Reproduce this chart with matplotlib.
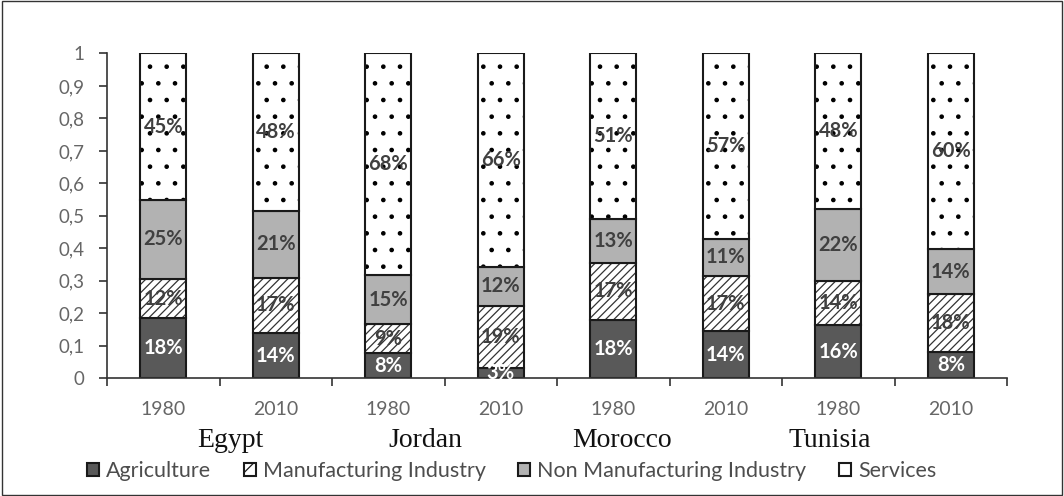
import numpy as np
import matplotlib.pyplot as plt
from matplotlib.patches import Rectangle, Patch

years = ["1980", "2010", "1980", "2010", "1980", "2010", "1980", "2010"]
countries = ["Egypt", "Jordan", "Morocco", "Tunisia"]
sectors = ["Agriculture", "Manufacturing Industry", "Non Manufacturing Industry", "Services"]

agriculture = [0.185, 0.14, 0.078, 0.033, 0.18, 0.145, 0.163, 0.08]
manufacturing = [0.12, 0.17, 0.088, 0.19, 0.175, 0.17, 0.135, 0.18]
non_manufacturing = [0.245, 0.205, 0.153, 0.12, 0.135, 0.115, 0.223, 0.137]
services = [0.45, 0.485, 0.681, 0.657, 0.51, 0.57, 0.479, 0.603]

agri_labels = ["18%", "14%", "8%", "3%", "18%", "14%", "16%", "8%"]
manu_labels = ["12%", "17%", "9%", "19%", "17%", "17%", "14%", "18%"]
nonm_labels = ["25%", "21%", "15%", "12%", "13%", "11%", "22%", "14%"]
serv_labels = ["45%", "48%", "68%", "66%", "51%", "57%", "48%", "60%"]

plt.rcParams["font.family"] = ["Lato", "DejaVu Sans"]
plt.rcParams["hatch.linewidth"] = 0.9

fig = plt.figure(figsize=(10.64, 4.96), dpi=100)
ax = fig.add_axes([0.1006, 0.2373, 0.8459, 0.655])

x = np.arange(len(years))
w = 0.41
series = [agriculture, manufacturing, non_manufacturing, services]
labels = [agri_labels, manu_labels, nonm_labels, serv_labels]
faces = ["#595959", "white", "#b2b2b2", "white"]
hatches = [None, "////", None, "."]
hatch_cols = ["black", "#333333", "black", "black"]
txt_cols = ["white", "#404040", "#404040", "#404040"]

# stacked bars: fill/hatch first, then a solid outline on top
bottom = np.zeros(len(years))
for vals, lab, fc, h, hc, tc in zip(series, labels, faces, hatches, hatch_cols, txt_cols):
    vals = np.array(vals)
    ax.bar(x, vals, w, bottom=bottom, color=fc, hatch=h, edgecolor=hc, linewidth=0)
    ax.bar(x, vals, w, bottom=bottom, color="none", edgecolor="#1a1a1a", linewidth=1.5)
    for xi, b, v, t in zip(x, bottom, vals, lab):
        ax.text(xi, b + v / 2, t, ha="center", va="center", color=tc,
                fontsize=14.5, fontweight="bold", zorder=5)
    bottom += vals

ax.set_xlim(-0.5, len(years) - 0.5)
ax.set_ylim(0, 1)
ax.set_yticks(np.arange(0, 1.01, 0.1))
ax.set_yticklabels(["0"] + [f"0,{i}" for i in range(1, 10)] + ["1"])
ax.tick_params(axis="y", colors="#333333", labelsize=13.5, length=6, width=1.2,
               labelcolor="#666666", pad=10)
ax.set_xticks(np.arange(-0.5, len(years), 1.0))
ax.set_xticklabels([])
ax.tick_params(axis="x", length=6, width=1.2, colors="#333333")
for xi, yr in zip(x, years):
    ax.text(xi, -0.096, yr, ha="center", va="center", fontsize=14, color="#666666")

for s in ["top", "right"]:
    ax.spines[s].set_visible(False)
ax.spines["left"].set_color("#333333")
ax.spines["bottom"].set_color("#333333")
ax.spines["left"].set_linewidth(1.2)
ax.spines["bottom"].set_linewidth(1.2)

country_x = [230, 425, 622, 830]
for cx, c in zip(country_x, countries):
    fig.text(cx / 1064, 1 - 447 / 496, c, ha="center", va="baseline",
             fontsize=20, family=["Liberation Serif"], color="#111111")

handles = [Patch(facecolor=fc, edgecolor="#1a1a1a", hatch=h, linewidth=1.5)
           for fc, h in zip(faces, ["", "//", "", ""])]
fig.legend(handles, sectors, loc="center", bbox_to_anchor=(0.481, 1 - 471 / 496),
           ncol=4, frameon=False, fontsize=15.5, handlelength=0.56, handleheight=0.56,
           handletextpad=0.33, columnspacing=1.5, labelcolor="#4d4d4d")

fig.patches.append(Rectangle((0.002, 0.003), 0.996, 0.994, transform=fig.transFigure,
                             fill=False, edgecolor="#333333", linewidth=1))

fig.savefig("out.png", dpi=100)
